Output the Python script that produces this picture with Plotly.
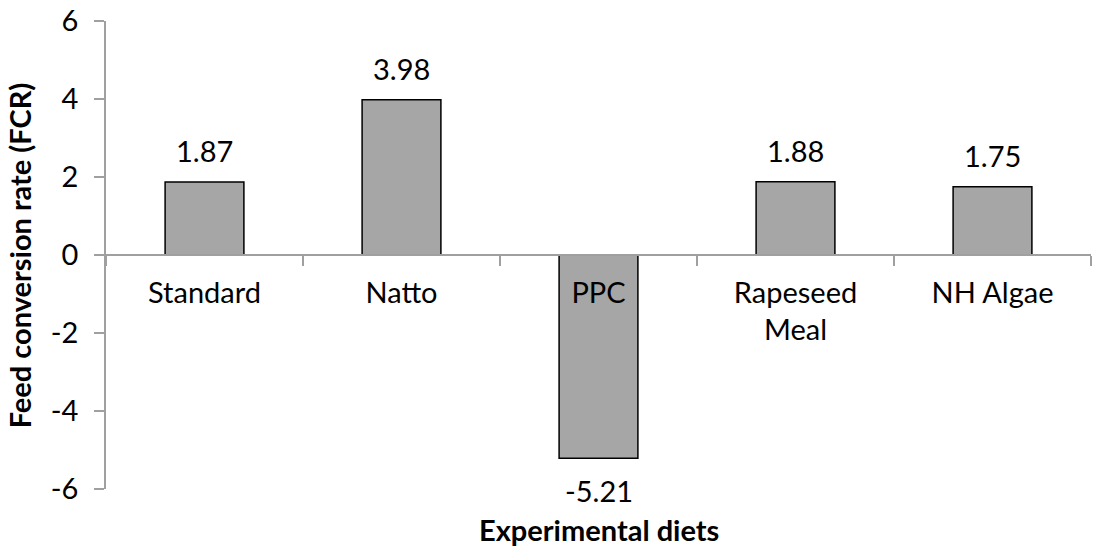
import plotly.graph_objects as go

categories = ["Standard", "Natto", "PPC", "Rapeseed<br>Meal", "NH Algae"]
values = [1.87, 3.98, -5.21, 1.88, 1.75]
value_labels = ["1.87", "3.98", "-5.21", "1.88", "1.75"]
y_ticks = [-6, -4, -2, 0, 2, 4, 6]
y_tick_labels = ["-6", "-4", "-2", "0", "2", "4", "6"]

FONT = "Lato"
FS = 29
AXIS_COLOR = "#A0A0A0"

fig = go.Figure()
fig.add_trace(go.Bar(
    x=categories, y=values,
    width=0.4,
    marker=dict(color="#A6A6A6", line=dict(color="black", width=1.5)),
    hoverinfo="x+y",
))

for c, v, t in zip(categories, values, value_labels):
    fig.add_annotation(
        x=c, y=v, xref="x", yref="y", text=t, showarrow=False,
        yanchor="bottom" if v >= 0 else "top",
        yshift=12 if v >= 0 else -13,
        font=dict(family=FONT, size=FS, color="black"),
    )

fig.add_annotation(
    x=0.5, y=-0.087, xref="paper", yref="paper", text="<b>Experimental diets</b>",
    showarrow=False, xanchor="center", yanchor="middle",
    font=dict(family=FONT, size=FS, color="black"),
)
fig.add_annotation(
    x=-0.088, y=0.5, xref="paper", yref="paper", text="<b>Feed conversion rate (FCR)</b>",
    showarrow=False, xanchor="center", yanchor="middle", textangle=-90,
    font=dict(family=FONT, size=FS, color="black"),
)

fig.update_layout(
    width=1096, height=546,
    margin=dict(l=106, r=5, t=21, b=57, autoexpand=False),
    plot_bgcolor="white", paper_bgcolor="white",
    showlegend=False,
    font=dict(family=FONT, size=FS, color="black"),
    xaxis=dict(
        type="category", automargin=False,
        anchor="free", position=0.5,
        showline=True, linecolor=AXIS_COLOR, linewidth=1.5,
        ticks="outside", tickson="boundaries", ticklen=10, tickcolor=AXIS_COLOR, tickwidth=1.5,
        ticklabelstandoff=12,
        showgrid=False, zeroline=False,
        tickfont=dict(family=FONT, size=FS, color="black"),
    ),
    yaxis=dict(
        range=[-6, 6], tickvals=y_ticks, ticktext=y_tick_labels, automargin=False,
        showline=True, linecolor=AXIS_COLOR, linewidth=1.5,
        ticks="outside", ticklen=10, tickcolor=AXIS_COLOR, tickwidth=1.5,
        ticklabelstandoff=10,
        showgrid=False, zeroline=False,
        tickfont=dict(family=FONT, size=FS, color="black"),
    ),
)

fig.write_html(
    "out.html",
    config={"displayModeBar": False},
    post_script="document.body.style.margin='0';document.body.style.overflow='hidden';",
)
